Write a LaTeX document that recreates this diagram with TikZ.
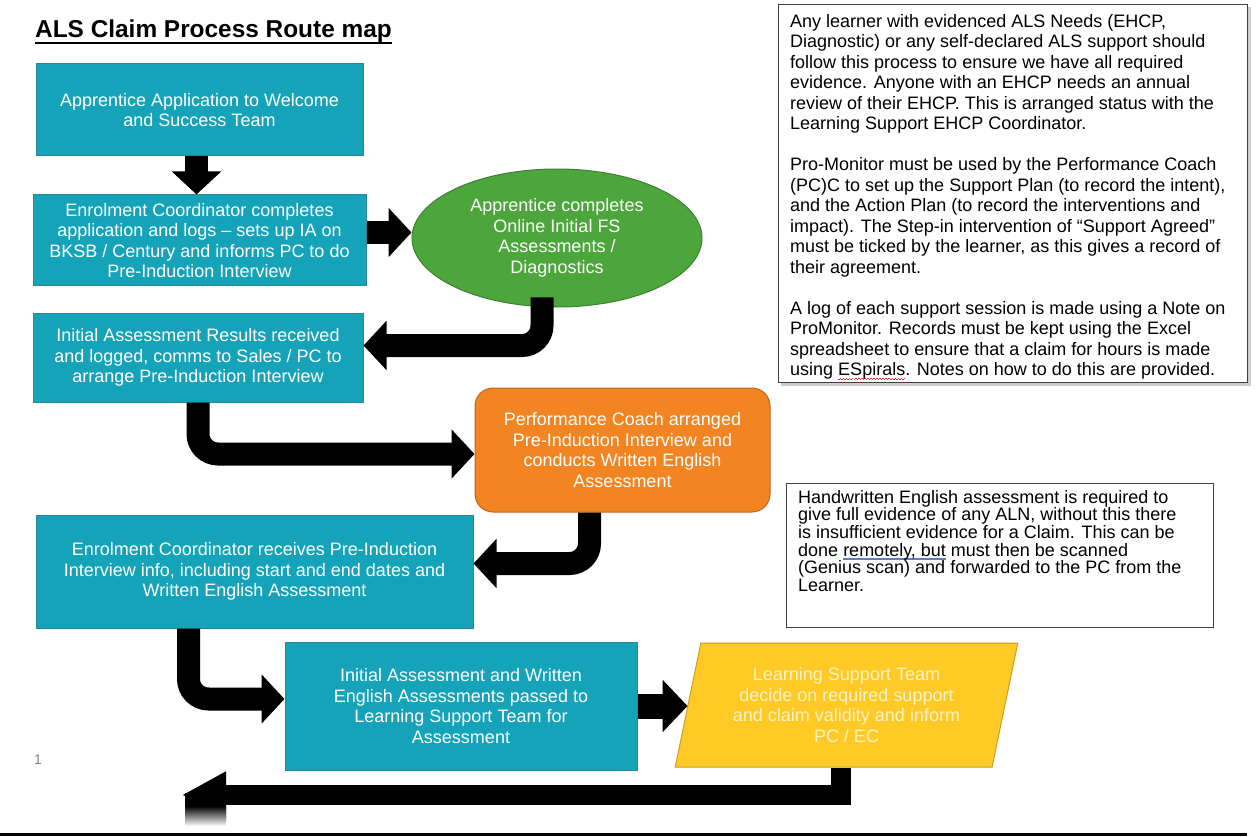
\documentclass[tikz,border=0pt]{standalone}
\usepackage{fontspec}
\setmainfont{Liberation Sans}
\usetikzlibrary{shapes.geometric,arrows.meta,calc}
\definecolor{tealfill}{HTML}{15A3B9}
\definecolor{tealline}{HTML}{2C8795}
\definecolor{greenfill}{HTML}{4CA63C}
\definecolor{greenline}{HTML}{3E7F31}
\definecolor{orangefill}{HTML}{F28522}
\definecolor{orangeline}{HTML}{C0651A}
\definecolor{yellowfill}{HTML}{FFC926}
\definecolor{yellowline}{HTML}{C9A020}
\definecolor{paletext}{HTML}{FFF2C4}
\definecolor{ulblue}{HTML}{5B7FC7}
\definecolor{wavered}{HTML}{E03030}
\newcommand\redwave[1]{\setbox0\hbox{#1}\rlap{\hbox to \wd0{\color{wavered}\xleaders\hbox{\rule[-4.5pt]{1.5pt}{1pt}\rule[-3.5pt]{1.5pt}{1pt}}\hfill}}\box0\relax}
\newcommand\blueul[1]{\setbox0\hbox{#1}\rlap{\textcolor{ulblue}{\rule[-3.5pt]{\wd0}{1.3pt}}}\box0\relax}
\begin{document}
\begin{tikzpicture}[x=1pt,y=-1pt,
  flowbox/.style={draw=tealline, fill=tealfill, line width=1pt, text=white, align=center,
    font=\fontsize{18}{20.5}\selectfont, inner sep=0pt},
  fat/.style={line width=23pt, black, -{Triangle[length=23pt,width=48pt]}},
  fatr/.style={fat, rounded corners=20pt},
  notetext/.style={align=left, anchor=north west, inner sep=0pt, text=black},
  noteframe/.style={draw=black!75, line width=1.2pt, fill=white, anchor=north west, inner sep=0pt}
]
\useasboundingbox (0,0) rectangle (1259,837);
\fill[white] (0,0) rectangle (1259,837);

% title
\node[anchor=base west, inner sep=0pt, font=\bfseries\fontsize{24.4}{28}\selectfont] (title) at (35,38)
  {ALS Claim Process Route map};
\draw[line width=1.8pt] ($(title.base west)+(0,5)$) -- ($(title.base east)+(0,5)$);

% flow nodes
\node[flowbox, minimum width=327pt, minimum height=92pt] (box1) at (199.5,110)
  {Apprentice Application to Welcome\\and Success Team};
\node[flowbox, minimum width=333pt, minimum height=91pt] (box2) at (199.5,240.5)
  {Enrolment Coordinator completes\\application and logs – sets up IA on\\BKSB / Century and informs PC to do\\Pre-Induction Interview};
\node[ellipse, draw=greenline, fill=greenfill, line width=1pt, text=white, align=center,
  font=\fontsize{18}{20.5}\selectfont, inner sep=0pt, minimum width=290pt, minimum height=138pt] (ell) at (557,238)
  {Apprentice completes\\Online Initial FS\\Assessments /\\Diagnostics};
\node[flowbox, minimum width=330pt, minimum height=89pt] (box3) at (198,357.5)
  {Initial Assessment Results received\\and logged, comms to Sales / PC to\\arrange Pre-Induction Interview};
\node[flowbox, draw=orangeline, fill=orangefill, rounded corners=18pt, minimum width=295pt, minimum height=124pt] (orange) at (622.5,450)
  {Performance Coach arranged\\Pre-Induction Interview and\\conducts Written English\\Assessment};
\node[flowbox, minimum width=437pt, minimum height=113pt] (box4) at (254.5,571.5)
  {Enrolment Coordinator receives Pre-Induction\\Interview info, including start and end dates and\\Written English Assessment};
\node[flowbox, minimum width=352pt, minimum height=128pt] (box5) at (461,706)
  {Initial Assessment and Written\\English Assessments passed to\\Learning Support Team for\\Assessment};
\node[trapezium, trapezium left angle=75, trapezium right angle=105, trapezium stretches=true,
  draw=yellowline, fill=yellowfill, line width=1pt, text=paletext, align=center,
  font=\fontsize{18}{20.5}\selectfont, inner sep=0pt, minimum width=343pt, minimum height=124pt] (para) at (846.5,705)
  {Learning Support Team\\decide on required support\\and claim validity and inform\\PC / EC};

% connectors
\draw[fat] ([xshift=-3pt]box1.south) -- ([xshift=-3pt]box1.south |- box2.north);
\draw[fat] ([yshift=8pt]box2.east) -- ([yshift=8pt]box2.east -| ell.west);
\draw[fatr] ($(ell.south)+(-15,-10)$) |- ($(box3.east)+(0,-12)$);
\draw[fatr] (box3.south) |- ($(orange.west)+(0,4)$);
\draw[fatr] ($(orange.south)+(-33,0)$) |- ($(box4.east)+(0,-8)$);
\draw[fatr] ($(box4.south)+(-66,0)$) |- ($(box5.west)+(0,-7)$);
\draw[fat, line width=25pt, -{Triangle[length=25pt,width=51pt]}] (box5.east) -- (box5.east -| para.west);
\coordinate (hend) at (182,795);
\draw[line width=20pt, black, -{Triangle[length=44pt,width=44pt]}] ($(para.center |- para.south)+(-6,0)$) |- (hend);
\fill[black] (185,793) rectangle (226,806);
\shade[top color=black, bottom color=white] (185,806) rectangle (226,826);

% notes
\fill[black!20] (781,7) rectangle (1251,386);
\node[noteframe, minimum width=469pt, minimum height=378pt] (frame1) at (778,4) {};
\node[notetext, font=\fontsize{18}{20.5}\selectfont] (note1) at (790,13)
  {\rule{0pt}{14pt}Any learner with evidenced ALS Needs (EHCP,\\
   Diagnostic) or any self-declared ALS support should\\
   follow this process to ensure we have all required\\
   evidence. Anyone with an EHCP needs an annual\\
   review of their EHCP. This is arranged status with the\\
   Learning Support EHCP Coordinator.\\[20.5pt]
   Pro-Monitor must be used by the Performance Coach\\
   (PC)C to set up the Support Plan (to record the intent),\\
   and the Action Plan (to record the interventions and\\
   impact). The Step-in intervention of “Support Agreed”\\
   must be ticked by the learner, as this gives a record of\\
   their agreement.\\[20.5pt]
   A log of each support session is made using a Note on\\
   ProMonitor. Records must be kept using the Excel\\
   spreadsheet to ensure that a claim for hours is made\\
   using \redwave{ESpirals}. Notes on how to do this are provided.};

\node[noteframe, minimum width=427pt, minimum height=144pt] (frame2) at (786,483) {};
\node[notetext, font=\fontsize{18}{17.6}\selectfont] (note2) at (798,489)
  {\rule{0pt}{14pt}Handwritten English assessment is required to\\
   give full evidence of any ALN, without this there\\
   is insufficient evidence for a Claim. This can be\\
   done \blueul{remotely, but} must then be scanned\\
   (Genius scan) and forwarded to the PC from the\\
   Learner.};

% page number and bottom rule
\node[anchor=base west, inner sep=0pt, text=black!50, font=\fontsize{14}{16}\selectfont] (pagenum) at (34,764) {1};
\draw[line width=3pt, black] (0,834) -- (1247,834);
\end{tikzpicture}
\end{document}
